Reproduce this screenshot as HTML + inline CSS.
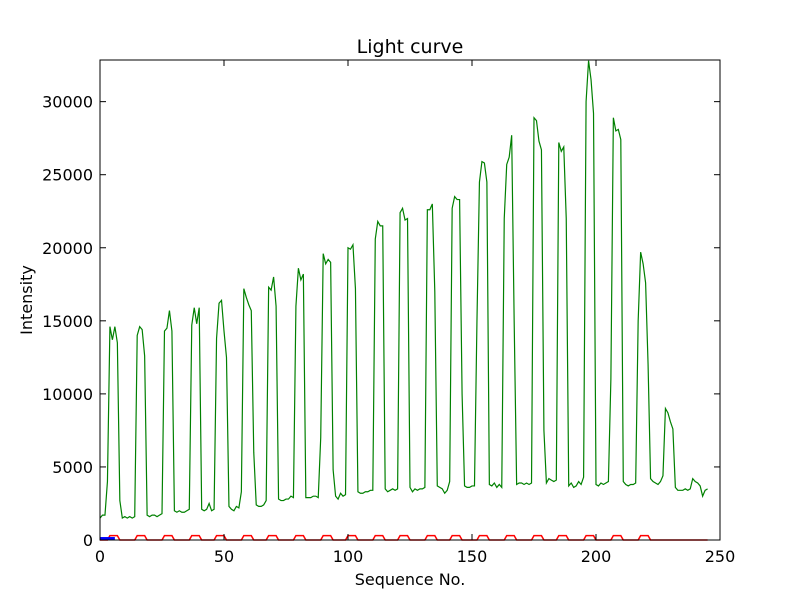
<!DOCTYPE html>
<html><head><meta charset="utf-8"><style>
html,body{margin:0;padding:0;background:#fff;}
svg text{font-family:"DejaVu Sans","Liberation Sans",sans-serif;}
</style></head><body>
<svg id="chart" width="800" height="600" viewBox="0 0 800 600" xmlns="http://www.w3.org/2000/svg">
<rect x="0" y="0" width="800" height="600" fill="#fff"/>
<text x="410" y="53" font-size="19" text-anchor="middle">Light curve</text>
<text x="410" y="585" font-size="16" text-anchor="middle">Sequence No.</text>
<text x="32" y="300" font-size="16" text-anchor="middle" transform="rotate(-90 32 300)">Intensity</text>
<g id="plot"></g>
<rect x="100" y="60" width="620" height="480" fill="none" stroke="#000" stroke-width="1"/>
</svg>
<script>
const xTicks = [0, 50, 100, 150, 200, 250];
const yTicks = [0, 5000, 10000, 15000, 20000, 25000, 30000];
const green = [
1500,1700,1700,4000,
14600,13700,14600,13500,
2700,1500,1600,1500,1600,1500,1600,
14000,14600,14400,12600,
1700,1600,1700,1700,1600,1700,1800,
14300,14500,15700,14300,
2000,1900,2000,1900,1900,2000,2100,
14700,15900,14800,15900,
2100,2000,2100,2500,2000,2100,
13800,16200,16400,14300,12500,
2300,2100,2000,2300,2200,3300,
17200,16600,16100,15700,
6000,2400,2300,2300,2400,2700,
17300,17100,18000,16000,
2800,2700,2700,2800,2800,3000,2900,
16000,18600,17800,18200,
2900,2900,2900,3000,3000,2900,7000,
19600,18900,19200,19000,
4800,3000,2800,3200,3000,3100,
20000,19900,20200,17200,
3300,3200,3200,3300,3300,3400,3400,
20600,21800,21500,21500,
3500,3300,3400,3500,3400,3500,
22400,22700,21900,22000,
3600,3300,3500,3400,3500,3500,3600,
22600,22600,23000,17000,
3700,3600,3500,3200,3400,4000,
22700,23500,23300,23300,
10000,3700,3600,3600,3700,3700,15000,
24500,25900,25800,24500,
3800,3700,3900,3600,3800,3600,22000,
25700,26200,27700,15000,
3800,3900,3900,3800,3900,3800,3900,
28900,28700,27300,26700,
7500,3900,4200,4100,4000,4100,
27200,26600,26900,22000,
3700,3900,3600,3700,4000,3800,4300,
30000,32800,31500,29200,
3800,3700,3900,3800,3900,4000,11000,
28900,28000,28100,27400,
4000,3800,3700,3800,3800,3900,15000,
19700,18900,17600,12000,
4200,4000,3900,3800,4000,4400,
9000,8700,8100,7600,
3600,3400,3400,3400,3500,3400,3500,
4200,4000,3900,3700,
3000,3400,3500];
const redBumpStarts = [4,15,26,37,47,58,68,79,90,100,111,121,132,142,153,164,175,185,196,207,218];
const redLevel = 300;
const redEnd = 245;
const blueX = [0, 6];
const blueY = [100, 100];

const X0=100, X1=720, Y0=540, Y1=60, XMAX=250, YMAX=32850;
const sx = v => X0 + v/XMAX*(X1-X0);
const sy = v => Y0 - v/YMAX*(Y0-Y1);
const NS = 'http://www.w3.org/2000/svg';
const svg = document.getElementById('chart');
const plot = document.getElementById('plot');
function mk(tag, attrs, parent){const e=document.createElementNS(NS,tag);for(const k in attrs)e.setAttribute(k,attrs[k]);(parent||plot).appendChild(e);return e;}

xTicks.forEach(t=>{
  const x=sx(t);
  const a=mk('line',{x1:x,y1:Y0,x2:x,y2:Y0-6,stroke:'#000'},svg);
  
  
  const b=mk('line',{x1:x,y1:Y1,x2:x,y2:Y1+6,stroke:'#000'},svg);
  
  
  const l=mk('text',{x:x,y:Y0+22,'font-size':16,'text-anchor':'middle'},svg);
  l.textContent=t;
  
  
});
yTicks.forEach(t=>{
  const y=sy(t);
  const a=mk('line',{x1:X0,y1:y,x2:X0+6,y2:y,stroke:'#000'},svg);
  
  
  const b=mk('line',{x1:X1,y1:y,x2:X1-6,y2:y,stroke:'#000'},svg);
  
  
  const l=mk('text',{x:X0-7,y:y+6,'font-size':16,'text-anchor':'end'},svg);
  l.textContent=t;
  
  
});

let rp=[];
rp.push([0,0]);
redBumpStarts.forEach(s=>{
  rp.push([s-1,0]);rp.push([s,redLevel]);rp.push([s+3,redLevel]);rp.push([s+4,0]);
});
rp.push([redEnd,0]);
const red=mk('polyline',{points:rp.map(p=>sx(p[0])+','+sy(p[1])).join(' '),fill:'none',stroke:'#ff0000','stroke-width':1.5});



const blue=mk('polyline',{points:blueX.map((x,i)=>sx(x)+','+sy(blueY[i])).join(' '),fill:'none',stroke:'#0000ff','stroke-width':3});



const g=mk('polyline',{points:green.map((v,i)=>sx(i)+','+sy(v)).join(' '),fill:'none',stroke:'#008000','stroke-width':1.2});


</script>
</body></html>
